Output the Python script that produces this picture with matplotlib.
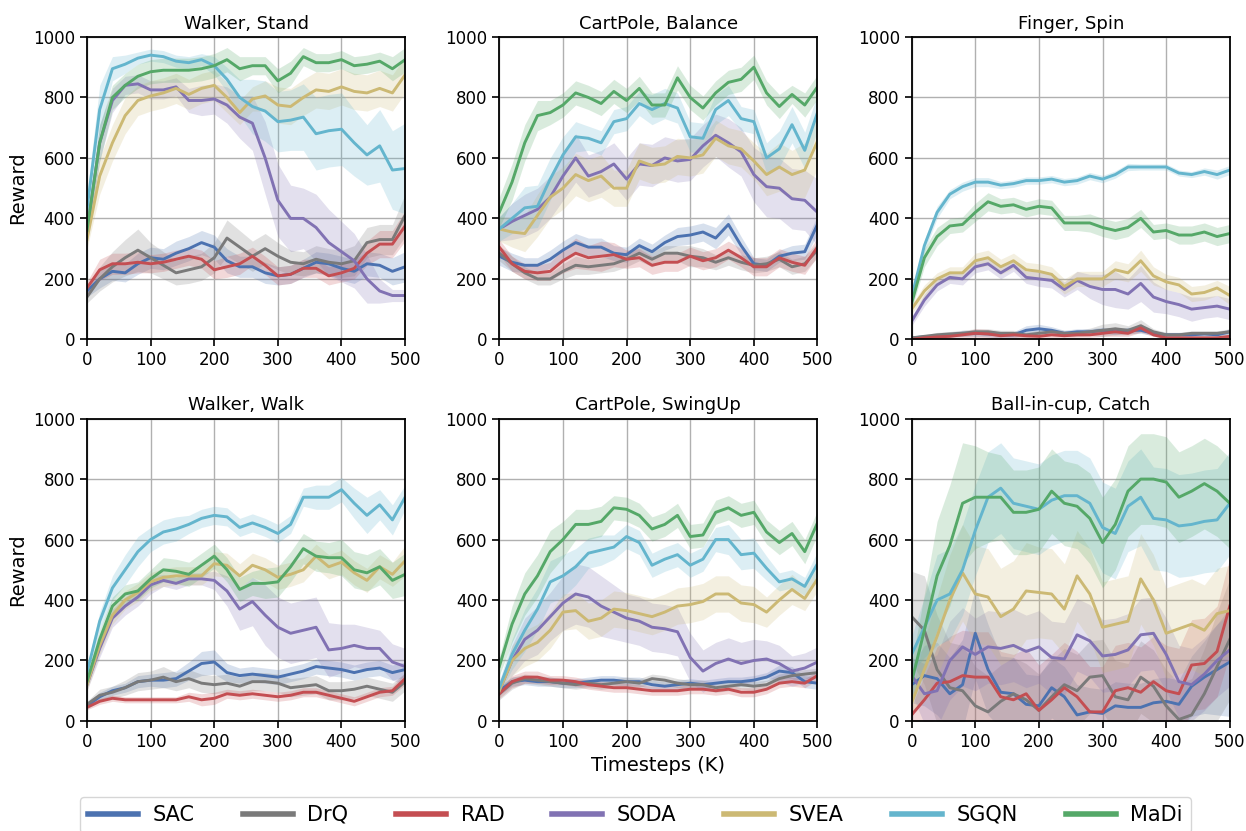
import numpy as np
import matplotlib
matplotlib.use("Agg")
import matplotlib.pyplot as plt

steps = np.arange(0, 501, 20)
methods = ["SAC", "DrQ", "RAD", "SODA", "SVEA", "SGQN", "MaDi"]
colors = ["#4C72B0", "#7A7A7A", "#C44E52", "#8172B3", "#CCB974", "#64B5CD", "#55A868"]
tasks = ["Walker, Stand", "CartPole, Balance", "Finger, Spin",
         "Walker, Walk", "CartPole, SwingUp", "Ball-in-cup, Catch"]

# mean reward per task, one row per method (same order as `methods`)
walker_stand = [
    [160, 200, 225, 220, 250, 270, 265, 285, 300, 320, 305, 260, 240, 240, 220, 210, 215, 235, 255, 250, 235, 225, 250, 245, 225, 240],
    [140, 200, 240, 270, 295, 270, 245, 220, 230, 240, 270, 335, 305, 275, 300, 275, 255, 250, 265, 255, 250, 260, 320, 330, 330, 410],
    [170, 230, 250, 250, 255, 250, 255, 265, 275, 265, 230, 240, 250, 275, 245, 210, 215, 235, 235, 210, 220, 235, 285, 315, 315, 375],
    [360, 650, 790, 840, 845, 825, 825, 835, 790, 790, 795, 775, 735, 715, 600, 460, 400, 400, 370, 320, 290, 260, 200, 160, 145, 145],
    [330, 540, 650, 740, 790, 805, 815, 830, 810, 830, 840, 800, 750, 795, 805, 775, 770, 800, 825, 820, 835, 820, 815, 830, 815, 875],
    [430, 760, 895, 910, 930, 940, 935, 920, 915, 925, 905, 860, 800, 770, 755, 720, 725, 735, 680, 690, 695, 650, 610, 640, 560, 565],
    [360, 650, 800, 840, 870, 885, 890, 890, 890, 895, 905, 925, 895, 905, 905, 855, 880, 935, 915, 915, 925, 905, 910, 920, 895, 925],
]
cartpole_balance = [
    [275, 255, 245, 245, 265, 295, 320, 305, 305, 285, 280, 310, 290, 320, 340, 345, 355, 335, 380, 310, 250, 245, 275, 285, 290, 380],
    [285, 250, 220, 200, 200, 225, 245, 240, 245, 250, 265, 285, 265, 285, 285, 275, 270, 255, 270, 255, 245, 250, 265, 240, 250, 295],
    [305, 250, 225, 220, 225, 260, 285, 270, 275, 280, 265, 270, 245, 255, 255, 275, 260, 270, 295, 270, 240, 240, 270, 255, 245, 305],
    [365, 390, 410, 430, 470, 540, 600, 540, 555, 580, 530, 580, 575, 600, 590, 595, 640, 675, 650, 620, 545, 505, 500, 465, 460, 420],
    [365, 355, 350, 410, 470, 500, 545, 525, 540, 500, 500, 590, 575, 580, 605, 600, 610, 665, 640, 630, 590, 545, 570, 545, 560, 655],
    [365, 400, 435, 440, 530, 610, 670, 665, 650, 720, 730, 780, 760, 780, 765, 670, 665, 760, 790, 730, 720, 600, 630, 710, 625, 750],
    [420, 520, 650, 740, 750, 775, 815, 800, 780, 820, 790, 830, 775, 775, 865, 800, 765, 815, 850, 860, 900, 815, 770, 810, 775, 835],
]
finger_spin = [
    [5, 8, 10, 15, 20, 20, 18, 15, 15, 30, 35, 30, 20, 25, 25, 30, 25, 30, 30, 20, 15, 15, 15, 18, 15, 25],
    [5, 10, 15, 18, 20, 25, 25, 20, 20, 15, 20, 25, 20, 20, 25, 30, 35, 30, 45, 25, 15, 15, 20, 20, 20, 25],
    [0, 5, 8, 10, 15, 20, 18, 12, 15, 12, 10, 15, 12, 15, 15, 20, 25, 20, 38, 15, 5, 5, 5, 5, 5, 10],
    [60, 130, 180, 205, 200, 240, 250, 220, 245, 205, 200, 195, 165, 195, 175, 165, 165, 150, 185, 140, 125, 115, 100, 105, 110, 100],
    [100, 160, 200, 220, 220, 260, 270, 240, 260, 230, 225, 215, 175, 200, 200, 200, 230, 220, 260, 210, 190, 180, 150, 155, 170, 145],
    [140, 310, 420, 480, 505, 520, 520, 510, 515, 525, 525, 530, 520, 525, 540, 530, 545, 570, 570, 570, 570, 550, 545, 555, 545, 560],
    [120, 270, 340, 375, 380, 420, 455, 440, 445, 430, 440, 435, 385, 385, 385, 370, 360, 370, 400, 355, 360, 345, 345, 355, 340, 350],
]
walker_walk = [
    [50, 80, 100, 110, 130, 135, 135, 140, 165, 190, 195, 160, 150, 155, 150, 145, 155, 165, 180, 175, 170, 160, 170, 175, 160, 170],
    [55, 85, 95, 110, 130, 135, 145, 130, 140, 125, 120, 125, 115, 130, 130, 125, 110, 115, 120, 100, 100, 105, 115, 105, 95, 130],
    [45, 65, 75, 70, 70, 70, 70, 70, 80, 70, 75, 90, 85, 90, 85, 80, 85, 95, 95, 85, 75, 65, 80, 95, 100, 140],
    [120, 240, 340, 380, 410, 450, 465, 455, 470, 470, 465, 430, 370, 395, 350, 310, 290, 300, 310, 235, 240, 250, 240, 240, 195, 180],
    [120, 250, 350, 400, 425, 460, 475, 480, 480, 480, 520, 515, 480, 515, 500, 475, 485, 500, 545, 510, 525, 490, 465, 510, 485, 530],
    [160, 330, 440, 500, 560, 600, 625, 635, 650, 670, 680, 675, 640, 655, 640, 620, 650, 740, 740, 740, 765, 720, 680, 715, 665, 740],
    [130, 270, 380, 420, 430, 470, 500, 495, 485, 515, 545, 500, 435, 455, 455, 460, 510, 570, 545, 540, 540, 500, 490, 510, 465, 485],
]
cartpole_swingup = [
    [100, 130, 135, 130, 130, 125, 125, 130, 135, 135, 130, 130, 120, 115, 120, 125, 120, 125, 130, 130, 135, 145, 165, 160, 130, 125],
    [90, 125, 140, 135, 130, 125, 120, 125, 120, 125, 130, 125, 140, 135, 125, 120, 120, 110, 115, 120, 115, 120, 140, 150, 155, 160],
    [90, 130, 145, 145, 135, 135, 130, 120, 115, 110, 110, 105, 100, 100, 100, 105, 105, 100, 105, 95, 95, 105, 125, 130, 125, 150],
    [100, 200, 270, 300, 345, 390, 420, 410, 380, 360, 340, 330, 310, 305, 295, 210, 165, 190, 205, 190, 200, 205, 190, 165, 175, 195],
    [100, 200, 240, 260, 300, 360, 365, 330, 340, 370, 365, 355, 345, 360, 380, 385, 395, 420, 420, 390, 385, 360, 400, 435, 405, 470],
    [110, 220, 300, 370, 460, 480, 510, 555, 565, 575, 610, 590, 515, 535, 550, 515, 535, 600, 600, 550, 555, 505, 460, 470, 445, 520],
    [180, 320, 420, 480, 560, 600, 650, 650, 660, 705, 700, 680, 635, 650, 680, 610, 615, 690, 705, 680, 690, 625, 590, 620, 560, 655],
]
ball_in_cup = [
    [120, 150, 140, 90, 120, 290, 170, 95, 90, 55, 50, 110, 80, 20, 30, 25, 50, 45, 45, 60, 65, 55, 115, 145, 170, 195],
    [345, 300, 170, 110, 100, 50, 30, 65, 90, 70, 35, 80, 120, 100, 145, 150, 80, 70, 145, 115, 50, 5, 20, 90, 180, 270],
    [20, 70, 125, 130, 150, 145, 145, 80, 70, 90, 35, 70, 110, 80, 30, 30, 100, 110, 95, 130, 100, 90, 185, 190, 230, 380],
    [150, 90, 100, 200, 245, 220, 245, 240, 250, 230, 245, 210, 205, 285, 265, 215, 220, 235, 285, 290, 220, 130, 120, 155, 200, 235],
    [60, 170, 280, 400, 490, 420, 410, 345, 370, 430, 425, 420, 370, 480, 420, 310, 320, 330, 470, 400, 290, 305, 320, 300, 355, 365],
    [220, 310, 400, 420, 500, 630, 740, 770, 720, 710, 700, 730, 745, 745, 720, 640, 620, 710, 740, 670, 665, 645, 650, 660, 665, 720],
    [130, 300, 480, 580, 720, 740, 740, 740, 690, 690, 700, 760, 720, 710, 670, 590, 650, 760, 800, 800, 790, 740, 760, 785, 760, 720],
]

# spread of the shaded band (one std) per task and method
walker_stand_sd = [
    [20, 30, 30, 30, 35, 35, 35, 40, 40, 40, 40, 40, 35, 35, 35, 30, 30, 30, 35, 35, 40, 40, 40, 40, 45, 50],
    [20, 40, 50, 60, 70, 50, 45, 40, 45, 45, 50, 60, 55, 50, 50, 45, 40, 40, 45, 45, 45, 50, 50, 50, 50, 70],
    [20, 35, 35, 35, 35, 30, 30, 30, 30, 30, 30, 35, 35, 30, 30, 30, 30, 30, 30, 30, 30, 35, 40, 45, 45, 50],
    [30, 60, 40, 30, 30, 30, 30, 30, 40, 50, 50, 60, 70, 90, 120, 120, 110, 100, 110, 110, 100, 90, 80, 40, 20, 20],
    [30, 60, 60, 60, 50, 50, 50, 50, 50, 50, 50, 50, 40, 40, 50, 60, 60, 60, 60, 60, 60, 60, 60, 60, 60, 60],
    [50, 80, 40, 30, 20, 20, 20, 20, 20, 20, 30, 40, 60, 90, 100, 100, 100, 110, 120, 120, 120, 110, 100, 120, 130, 150],
    [30, 60, 40, 40, 40, 40, 40, 40, 40, 40, 40, 40, 40, 30, 30, 40, 40, 30, 30, 30, 30, 30, 30, 30, 40, 40],
]
cartpole_balance_sd = [
    [30, 30, 25, 25, 30, 30, 30, 30, 30, 25, 25, 25, 25, 25, 30, 30, 30, 35, 35, 30, 20, 20, 20, 25, 25, 30],
    [25, 25, 20, 20, 20, 25, 30, 25, 25, 25, 25, 25, 25, 25, 25, 35, 30, 25, 25, 25, 25, 25, 25, 25, 25, 25],
    [25, 25, 25, 25, 30, 40, 50, 40, 50, 40, 30, 30, 30, 30, 30, 30, 30, 30, 30, 30, 30, 30, 30, 30, 30, 30],
    [40, 60, 70, 70, 70, 80, 80, 70, 70, 70, 70, 70, 70, 70, 70, 70, 70, 70, 80, 80, 90, 100, 100, 100, 100, 110],
    [40, 50, 60, 70, 70, 70, 70, 70, 70, 60, 60, 60, 60, 60, 60, 60, 60, 60, 60, 60, 60, 70, 80, 80, 90, 90],
    [40, 50, 70, 70, 70, 60, 50, 40, 40, 40, 40, 40, 50, 50, 50, 50, 50, 50, 50, 40, 40, 50, 60, 60, 60, 60],
    [50, 60, 60, 50, 40, 40, 40, 40, 40, 40, 40, 40, 40, 40, 40, 40, 40, 40, 40, 40, 40, 40, 40, 30, 40, 40],
]
finger_spin_sd = [
    [5, 5, 5, 8, 10, 10, 10, 10, 10, 15, 15, 12, 10, 10, 10, 10, 10, 10, 10, 8, 8, 8, 8, 8, 8, 10],
    [5, 5, 8, 8, 10, 10, 10, 10, 10, 10, 10, 10, 10, 10, 12, 20, 20, 15, 20, 10, 8, 8, 8, 8, 8, 10],
    [3, 5, 5, 8, 10, 15, 15, 10, 10, 10, 8, 10, 8, 8, 8, 10, 15, 10, 15, 5, 3, 3, 3, 3, 3, 5],
    [15, 20, 20, 20, 20, 20, 20, 20, 20, 20, 25, 25, 25, 30, 40, 50, 60, 50, 60, 50, 40, 40, 40, 35, 35, 35],
    [15, 20, 20, 20, 20, 25, 25, 25, 25, 25, 25, 25, 25, 25, 25, 25, 30, 30, 35, 30, 25, 25, 25, 25, 25, 30],
    [15, 20, 20, 15, 15, 15, 15, 12, 12, 12, 12, 12, 12, 12, 12, 12, 12, 12, 10, 10, 10, 10, 10, 12, 15, 15],
    [20, 30, 30, 25, 25, 30, 30, 25, 25, 25, 25, 25, 25, 25, 30, 30, 30, 30, 30, 25, 25, 30, 30, 30, 30, 30],
]
walker_walk_sd = [
    [10, 15, 15, 15, 20, 20, 25, 25, 30, 40, 40, 30, 25, 25, 25, 25, 25, 25, 25, 25, 25, 25, 25, 25, 25, 25],
    [10, 20, 20, 25, 30, 30, 35, 30, 30, 30, 30, 30, 30, 30, 30, 30, 30, 30, 30, 30, 30, 30, 30, 30, 30, 30],
    [8, 10, 10, 10, 10, 10, 10, 10, 15, 20, 20, 15, 15, 15, 15, 15, 15, 15, 15, 15, 15, 15, 15, 15, 15, 20],
    [20, 30, 30, 30, 30, 30, 20, 20, 20, 20, 30, 50, 70, 80, 100, 100, 100, 100, 100, 90, 80, 70, 70, 60, 60, 60],
    [20, 30, 30, 30, 30, 30, 30, 30, 30, 30, 40, 40, 40, 40, 40, 40, 40, 40, 40, 40, 40, 40, 40, 40, 40, 50],
    [20, 30, 40, 50, 50, 40, 40, 40, 30, 30, 30, 30, 30, 30, 30, 30, 30, 30, 40, 40, 40, 50, 60, 50, 50, 40],
    [20, 30, 30, 30, 30, 30, 40, 40, 40, 40, 40, 40, 40, 40, 50, 50, 50, 50, 50, 50, 60, 60, 60, 60, 60, 70],
]
cartpole_swingup_sd = [
    [15, 15, 15, 15, 15, 15, 15, 15, 15, 15, 15, 15, 15, 15, 15, 15, 15, 15, 15, 15, 15, 15, 20, 20, 20, 20],
    [20, 20, 15, 15, 15, 15, 15, 15, 15, 15, 15, 15, 15, 15, 15, 15, 15, 15, 15, 15, 15, 15, 15, 15, 15, 15],
    [15, 20, 20, 20, 15, 15, 15, 15, 15, 15, 15, 15, 15, 15, 15, 15, 15, 15, 15, 15, 15, 15, 15, 15, 15, 15],
    [20, 50, 70, 80, 80, 90, 100, 100, 100, 90, 80, 80, 80, 80, 80, 80, 70, 70, 70, 70, 70, 60, 60, 50, 50, 50],
    [20, 50, 60, 60, 60, 60, 60, 60, 60, 60, 60, 60, 60, 60, 60, 60, 60, 60, 60, 60, 60, 50, 50, 50, 40, 40],
    [20, 50, 70, 70, 70, 70, 60, 50, 50, 40, 40, 40, 40, 40, 40, 40, 40, 40, 50, 50, 50, 40, 30, 30, 30, 40],
    [30, 60, 70, 70, 70, 60, 50, 50, 50, 40, 40, 40, 40, 40, 40, 40, 40, 40, 40, 40, 40, 40, 40, 40, 40, 40],
]
ball_in_cup_sd = [
    [60, 100, 120, 120, 150, 150, 150, 120, 120, 100, 100, 100, 100, 100, 80, 80, 80, 80, 80, 80, 80, 80, 100, 120, 150, 180],
    [150, 180, 180, 150, 150, 130, 120, 120, 120, 120, 120, 120, 120, 120, 120, 120, 120, 120, 120, 120, 120, 120, 120, 150, 180, 200],
    [30, 80, 120, 150, 150, 150, 150, 150, 150, 150, 150, 150, 150, 150, 150, 150, 150, 150, 150, 150, 150, 150, 150, 150, 150, 160],
    [60, 100, 120, 130, 130, 120, 120, 120, 120, 120, 120, 120, 120, 120, 120, 120, 120, 120, 120, 120, 120, 120, 120, 120, 120, 120],
    [40, 100, 130, 150, 160, 160, 160, 160, 160, 160, 150, 150, 150, 150, 150, 150, 150, 150, 150, 150, 150, 150, 150, 150, 150, 150],
    [60, 100, 150, 150, 150, 150, 150, 150, 150, 150, 150, 150, 150, 150, 150, 150, 150, 150, 160, 170, 170, 170, 170, 170, 170, 170],
    [60, 120, 180, 200, 200, 170, 150, 140, 140, 140, 140, 140, 140, 140, 150, 150, 150, 150, 150, 150, 150, 150, 150, 150, 150, 150],
]

means = [walker_stand, cartpole_balance, finger_spin, walker_walk, cartpole_swingup, ball_in_cup]
spreads = [walker_stand_sd, cartpole_balance_sd, finger_spin_sd, walker_walk_sd, cartpole_swingup_sd, ball_in_cup_sd]

plt.rcParams['font.family'] = ['DejaVu Sans']
fig, axes = plt.subplots(2, 3, figsize=(12.46, 8.31), dpi=100)
fig.subplots_adjust(left=0.0698, right=0.987, top=0.9555, bottom=0.1324, wspace=0.296, hspace=0.262)

for i, ax in enumerate(axes.flat):
    for m, name in enumerate(methods):
        mu = np.array(means[i][m], dtype=float)
        sd = np.array(spreads[i][m], dtype=float)
        ax.fill_between(steps, mu - sd, mu + sd, color=colors[m], alpha=0.22, lw=0)
        ax.plot(steps, mu, color=colors[m], lw=2.1, label=name)
    ax.set_xlim(0, 500)
    ax.set_ylim(0, 1000)
    ax.set_xticks([0, 100, 200, 300, 400, 500])
    ax.set_yticks([0, 200, 400, 600, 800, 1000])
    ax.grid(True, color='#b0b0b0', lw=1)
    ax.set_axisbelow(True)
    ax.tick_params(labelsize=12, width=1.2, length=5)
    for s in ax.spines.values():
        s.set_linewidth(1.3)
        s.set_color('black')
    ax.set_title(tasks[i], fontsize=13)
    if i % 3 == 0:
        ax.set_ylabel("Reward", fontsize=14)

axes[1, 1].set_xlabel("Timesteps (K)", fontsize=14)

handles, labels = axes[0, 0].get_legend_handles_labels()
leg = fig.legend(handles, labels, loc='upper center', bbox_to_anchor=(0.51, 0.054),
                 ncol=7, fontsize=15, handlelength=2.4, handletextpad=0.7,
                 columnspacing=2.3, frameon=True, fancybox=True)
for h in leg.get_lines():
    h.set_linewidth(4)

fig.savefig("out.png", dpi=100)
